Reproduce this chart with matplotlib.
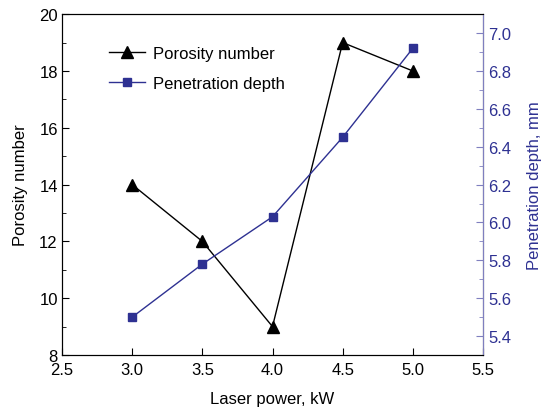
import matplotlib
matplotlib.use("Agg")
import matplotlib.pyplot as plt
from matplotlib.ticker import MultipleLocator

plt.rcParams["font.family"] = ["Liberation Sans", "DejaVu Sans"]
plt.rcParams["font.size"] = 12

power = [3.0, 3.5, 4.0, 4.5, 5.0]
porosity = [14, 12, 9, 19, 18]
depth = [5.50, 5.78, 6.03, 6.45, 6.92]

blue = "#2e3192"
spine_blue = "#7f7fbf"

fig = plt.figure(figsize=(5.43, 4.10), dpi=100)
ax = fig.add_axes([0.1142, 0.1317, 0.7753, 0.8313])
ax2 = ax.twinx()

l1, = ax.plot(power, porosity, color="black", lw=1, marker="^", ms=8,
              label="Porosity number")
l2, = ax2.plot(power, depth, color=blue, lw=1, marker="s", ms=6,
               label="Penetration depth")

ax.set_xlim(2.5, 5.5)
ax.set_ylim(8, 20)
ax2.set_ylim(5.3, 7.1)

ax.xaxis.set_major_locator(MultipleLocator(0.5))
ax.yaxis.set_major_locator(MultipleLocator(2))
ax.yaxis.set_minor_locator(MultipleLocator(1))
ax2.yaxis.set_major_locator(MultipleLocator(0.2))
ax2.yaxis.set_minor_locator(MultipleLocator(0.1))

ax.xaxis.set_major_formatter(plt.FormatStrFormatter("%.1f"))
ax2.yaxis.set_major_formatter(plt.FormatStrFormatter("%.1f"))

ax.tick_params(axis="x", direction="in", length=5, top=False, pad=5)
ax.tick_params(axis="y", which="major", direction="in", length=5, right=False, pad=3)
ax.tick_params(axis="y", which="minor", direction="in", length=3, right=False)
ax2.tick_params(axis="y", which="major", direction="in", length=5,
                color=spine_blue, labelcolor=blue, pad=4)
ax2.tick_params(axis="y", which="minor", direction="in", length=3, color=spine_blue)

ax2.spines["right"].set_color(spine_blue)

ax.set_xlabel("Laser power, kW", labelpad=10)
ax.set_ylabel("Porosity number", labelpad=8)
ax2.set_ylabel("Penetration depth, mm", color=blue, labelpad=11)

ax.legend([l1, l2], ["Porosity number", "Penetration depth"], loc="upper left",
          bbox_to_anchor=(0.075, 0.95), frameon=False, handlelength=2.2,
          handletextpad=0.45, labelspacing=0.9, fontsize=12)

fig.savefig("out.png", dpi=100)
